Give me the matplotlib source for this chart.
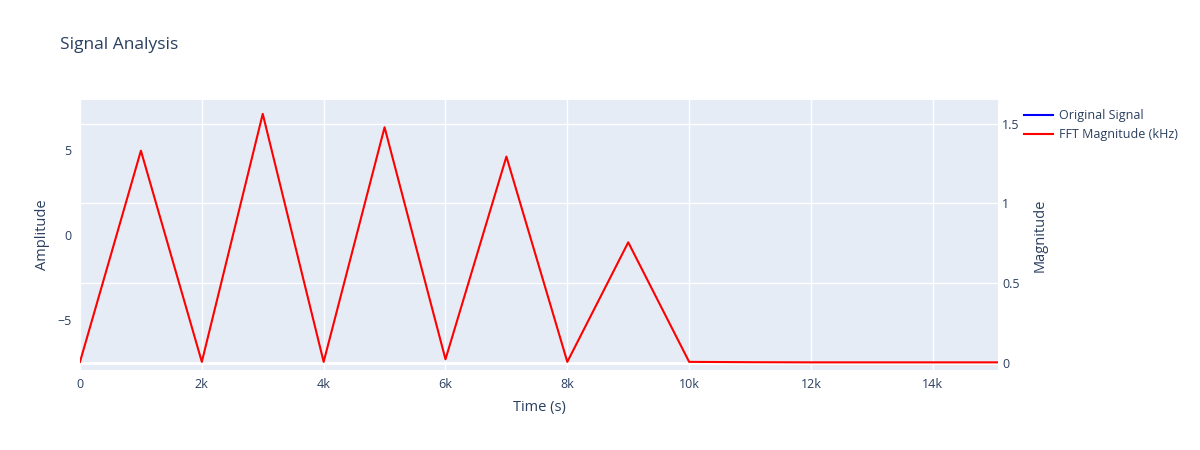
import matplotlib
matplotlib.use("Agg")
import matplotlib.pyplot as plt
from matplotlib.lines import Line2D

plt.rcParams['font.family'] = ['Open Sans', 'DejaVu Sans']

# FFT magnitude (right axis), frequency on the x axis
fft_freq = [0, 1000, 2000, 3000, 4000, 5000, 6000, 7000, 8000, 9000,
            10000, 11000, 12000, 13000, 14000, 15070]
fft_mag = [0.005, 1.330, 0.005, 1.561, 0.005, 1.477, 0.021, 1.293, 0.005, 0.755,
           0.005, 0.003, 0.002, 0.002, 0.002, 0.002]

# Original signal: nothing visible in the chart, only its legend entry
signal_time = []
signal_amp = []

x_ticks = [0, 2000, 4000, 6000, 8000, 10000, 12000, 14000]
x_labels = ['0', '2k', '4k', '6k', '8k', '10k', '12k', '14k']
left_ticks = [-5, 0, 5]
left_labels = ['\u22125', '0', '5']
right_ticks = [0, 0.5, 1, 1.5]
right_labels = ['0', '0.5', '1', '1.5']

BG = '#E5ECF6'
TXT = '#2a3f5f'

fig = plt.figure(figsize=(12, 4.5), dpi=100)
ax = fig.add_axes([80 / 1200, 1 - 370 / 450, 918 / 1200, 270 / 450])
ax.set_facecolor(BG)
ax2 = ax.twinx()

ax.plot(signal_time, signal_amp, color='blue', linewidth=1.5)
ax2.plot(fft_freq, fft_mag, color='red', linewidth=1.5, zorder=3)

ax.set_xlim(0, 15070)
ax.set_ylim(-7.97, 7.97)
ax2.set_ylim(-0.046, 1.648)

ax.set_xticks(x_ticks)
ax.set_xticklabels(x_labels)
ax.set_yticks(left_ticks)
ax.set_yticklabels(left_labels)
ax2.set_yticks(right_ticks)
ax2.set_yticklabels(right_labels)

# grid: vertical from x, horizontal only from the right axis
ax.set_axisbelow(True)
ax.grid(True, axis='x', color='white', linewidth=1)
ax.grid(False, axis='y')
for v in right_ticks:
    ax2.axhline(v, color='white', linewidth=2 if v == 0 else 1, zorder=0)

for a in (ax, ax2):
    for s in a.spines.values():
        s.set_visible(False)
    a.tick_params(length=0, labelsize=9, labelcolor=TXT, colors=TXT)
ax.tick_params(axis='x', pad=6)
ax.tick_params(axis='y', pad=6)
ax2.tick_params(axis='y', pad=3)

ax.set_xlabel('Time (s)', fontsize=10.5, color=TXT, labelpad=6)
ax.set_ylabel('Amplitude', fontsize=10.5, color=TXT, labelpad=5)
ax2.set_ylabel('Magnitude', fontsize=10.5, color=TXT, labelpad=9)

fig.text(60 / 1200, 1 - 45 / 450, 'Signal Analysis', fontsize=12.5, color=TXT,
         va='center', ha='left')

handles = [Line2D([], [], color='blue', linewidth=1.5),
           Line2D([], [], color='red', linewidth=1.5)]
fig.legend(handles, ['Original Signal', 'FFT Magnitude (kHz)'], loc='upper left',
           bbox_to_anchor=(1013 / 1200, 1 - 98 / 450), frameon=False,
           fontsize=9, handlelength=2.3, handletextpad=0.5, labelspacing=0.45,
           labelcolor=TXT)

fig.savefig('out.png', dpi=100)
